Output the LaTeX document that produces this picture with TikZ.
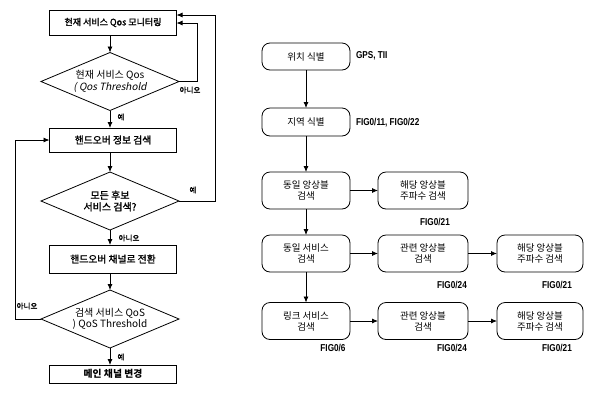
\documentclass[tikz,border=0pt]{standalone}
\usepackage{fontspec}
\setmainfont{Noto Sans CJK KR}[ItalicFont=Noto Sans CJK KR, ItalicFeatures={FakeSlant=0.2}, BoldFont=Noto Sans CJK KR, BoldFeatures={FakeBold=1.5}]
\newfontfamily\lat{Liberation Sans}[FakeStretch=0.82, BoldFeatures={FakeStretch=0.82}]
\usetikzlibrary{shapes.geometric,arrows.meta}
\begin{document}
\begin{tikzpicture}[x=1pt,y=-1pt,
  every node/.style={inner sep=0pt, outer sep=0pt},
  sqbox/.style={draw, line width=0.8pt, minimum width=127pt, align=center, font=\fontsize{9.8}{11}\selectfont\bfseries},
  dia/.style={draw, line width=0.8pt, shape=diamond, aspect=2.4, minimum width=138pt, minimum height=58pt, align=center, font=\fontsize{10}{11.5}\selectfont},
  rbox/.style={draw, line width=0.8pt, rounded corners=8pt, minimum height=37pt, align=center, font=\fontsize{9.5}{11}\selectfont},
  arr/.style={line width=0.8pt, -{Latex[length=6pt,width=5pt]}},
  ln/.style={line width=0.8pt},
  lbl/.style={font=\fontsize{7.5}{8}\selectfont\bfseries},
  fig/.style={font=\lat\bfseries\fontsize{10}{11}\selectfont},
]
\useasboundingbox (0,0) rectangle (597,392);
% left flowchart
\node[sqbox, minimum height=25pt, font=\fontsize{9}{10}\selectfont\bfseries] (b1) at (113,22.5) {현재 서비스 Qos 모니터링};
\node[dia] (d1) at (110,81.5) {현재 서비스 Qos\\\textit{( Qos Threshold}};
\node[sqbox, minimum height=24pt] (b2) at (113,140) {핸드오버 정보 검색};
\node[dia] (d2) at (110,201) {\textbf{모든 후보}\\\textbf{서비스 검색?}};
\node[sqbox, minimum height=28pt] (b3) at (113,259) {핸드오버 채널로 전환};
\node[dia] (d3) at (110,319) {검색 서비스 QoS\\) QoS Threshold};
\node[sqbox, minimum height=18pt] (b4) at (113,374) {\textit{메인 채널 변경}};

\draw[arr] (b1.south -| d1.north) -- (d1.north);
\draw[arr] (d1.south) -- (d1.south |- b2.north);
\draw[arr] (b2.south -| d2.north) -- (d2.north);
\draw[arr] (d2.south) -- (d2.south |- b3.north);
\draw[arr] (b3.south -| d3.north) -- (d3.north);
\draw[arr] (d3.south) -- (d3.south |- b4.north);

\coordinate (r1) at (197,23);
\coordinate (r2) at (215,15);
\coordinate (l3) at (15,140);
\draw[ln] (d1.east) -| (r1);
\draw[arr] (r1) -- (r1 -| b1.east);
\draw[ln] (d2.east) -| (r2);
\draw[arr] (r2) -- (r2 -| b1.east);
\draw[ln] (d3.west) -| (l3);
\draw[arr] (l3) -- (b2.west);

\node[lbl] (t1) at (190,90) {아니오};
\node[lbl] (t2) at (121,117) {예};
\node[lbl] (t3) at (193,190) {예};
\node[lbl] (t4) at (129,238) {아니오};
\node[lbl] (t5) at (27,306) {아니오};
\node[lbl] (t6) at (121,357) {예};

% right flowchart
\node[rbox, minimum width=88pt, minimum height=27pt] (A) at (306,56.5) {위치 식별};
\node[rbox, minimum width=88pt, minimum height=28pt] (B) at (306,122) {지역 식별};
\node[rbox, minimum width=88pt] (C) at (306,190.5) {동일 앙상블\\검색};
\node[rbox, minimum width=90pt] (D) at (423,190.5) {해당 앙상블\\주파수 검색};
\node[rbox, minimum width=88pt] (E) at (306,253.5) {동일 서비스\\검색};
\node[rbox, minimum width=90pt] (F) at (423,253.5) {관련 앙상블\\검색};
\node[rbox, minimum width=86pt] (G) at (540,253.5) {해당 앙상블\\주파수 검색};
\node[rbox, minimum width=88pt] (H) at (306,321) {링크 서비스\\검색};
\node[rbox, minimum width=90pt] (I) at (423,321) {관련 앙상블\\검색};
\node[rbox, minimum width=86pt] (J) at (540,321) {해당 앙상블\\주파수 검색};

\draw[arr] (A) -- (B);
\draw[arr] (B) -- (C);
\draw[arr] (C) -- (E);
\draw[arr] (E) -- (H);
\draw[arr] (C) -- (D);
\draw[arr] (E) -- (F);
\draw[arr] (F) -- (G);
\draw[arr] (H) -- (I);
\draw[arr] (I) -- (J);

\node[fig, anchor=west] (fa) at (356,56) {GPS, TII};
\node[fig, anchor=west] (fb) at (356,123) {FIG0/11, FIG0/22};
\node[fig] (fc) at (435,222) {FIG0/21};
\node[fig] (fd) at (452,285) {FIG0/24};
\node[fig] (fe) at (557,285) {FIG0/21};
\node[fig] (ff) at (333,348) {FIG0/6};
\node[fig] (fg) at (452,348) {FIG0/24};
\node[fig] (fh) at (557,348) {FIG0/21};
\end{tikzpicture}
\end{document}
